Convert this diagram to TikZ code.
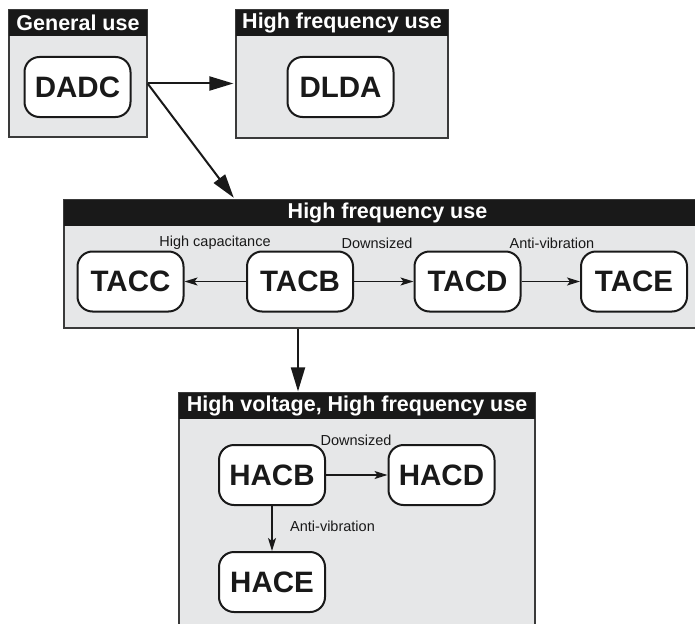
\documentclass[tikz,border=0pt]{standalone}
\usepackage{fontspec}
\setmainfont{Liberation Sans}
\usetikzlibrary{arrows.meta,calc}
\definecolor{panelgray}{HTML}{E6E7E8}
\definecolor{panelline}{HTML}{3A3A3A}
\tikzset{
  panel/.style={draw=panelline, line width=1.2pt, fill=panelgray, rectangle, inner sep=0pt},
  header/.style={fill=black!90, text=white, rectangle, inner sep=0pt, minimum height=26pt,
    font=\bfseries\fontsize{21.5}{24}\selectfont},
  part/.style={draw=black!90, line width=2pt, fill=white, rounded corners=15pt,
    minimum width=106pt, minimum height=60pt, inner sep=0pt,
    font=\bfseries\fontsize{29.5}{33}\selectfont, text=black!90},
  biglink/.style={line width=2pt, draw=black!90, -{Triangle[length=24pt,width=14pt]}, shorten >=2pt},
  smalllink/.style={line width=1.5pt, draw=black!90, -{Stealth[length=13pt,width=8pt,inset=3pt]}},
  lbl/.style={font=\fontsize{14.5}{16}\selectfont, text=black!90, inner sep=0pt}
}
\begin{document}
\begin{tikzpicture}[x=1pt,y=-1pt]
\useasboundingbox (0,0) rectangle (695,623);
\clip (0,0) rectangle (695,623);
\fill[white] (0,0) rectangle (695,623);

% panels
\node[panel, minimum width=138pt, minimum height=127pt] (box1) at (78,73.5) {};
\node[header, minimum width=138pt, anchor=north] (h1) at (box1.north) {General use};
\node[panel, minimum width=212pt, minimum height=128pt] (box2) at (342,74) {};
\node[header, minimum width=212pt, anchor=north] (h2) at (box2.north) {High frequency use};
\node[panel, minimum width=647pt, minimum height=128pt] (box3) at (387.5,264) {};
\node[header, minimum width=647pt, anchor=north] (h3) at (box3.north) {High frequency use};
\node[panel, minimum width=356pt, minimum height=257pt] (box4) at (357,521.5) {};
\node[header, minimum width=356pt, anchor=north] (h4) at (box4.north) {High voltage, High frequency use};

% parts
\node[part] (DADC) at (77.5,87) {DADC};
\node[part] (DLDA) at (340.5,87) {DLDA};
\node[part] (TACC) at (130.5,281.5) {TACC};
\node[part] (TACB) at (300,281.5) {TACB};
\node[part] (TACD) at (467.5,281.5) {TACD};
\node[part] (TACE) at (634,281.5) {TACE};
\node[part] (HACB) at (272,475) {HACB};
\node[part] (HACD) at (441.5,475) {HACD};
\node[part] (HACE) at (272,582) {HACE};

% labels
\node[lbl] (l1) at (215,243) {High capacitance};
\node[lbl] (l2) at (377,243) {Downsized};
\node[lbl] (l3) at (552,243) {Anti-vibration};
\node[lbl] (l4) at (356,440) {Downsized};
\node[lbl, anchor=west] (l5) at (290,526) {Anti-vibration};

% big connectors
\coordinate (o1) at (box1.east |- 0,83.5);
\coordinate (t1) at (box3.north -| 235,0);
\draw[biglink] (o1) -- (box2.west |- o1);
\draw[biglink] (o1) -- (t1);
\coordinate (d1) at (box3.south -| 298,0);
\draw[biglink, shorten >=1pt] (d1) -- (box4.north -| d1);

% small connectors
\draw[smalllink] (TACB.west) -- (TACC.east);
\draw[smalllink] (TACB.east) -- (TACD.west);
\draw[smalllink] (TACD.east) -- (TACE.west);
\draw[smalllink] (HACB.east) -- (HACD.west);
\draw[smalllink] (HACB.south) -- (HACE.north);
\end{tikzpicture}
\end{document}
